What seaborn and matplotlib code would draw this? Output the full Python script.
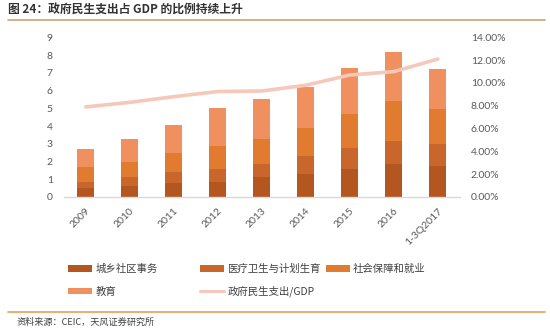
import numpy as np
import pandas as pd
import matplotlib
matplotlib.use("Agg")
import matplotlib.pyplot as plt
from matplotlib.patches import Patch
from matplotlib.lines import Line2D
import seaborn as sns

years = ["2009", "2010", "2011", "2012", "2013", "2014", "2015", "2016", "1-3Q2017"]
community = [0.50, 0.60, 0.79, 0.85, 1.11, 1.28, 1.58, 1.88, 1.77]
health = [0.35, 0.51, 0.62, 0.73, 0.75, 1.01, 1.19, 1.30, 1.22]
social = [0.82, 0.87, 1.05, 1.30, 1.43, 1.61, 1.90, 2.22, 1.98]
education = [1.03, 1.29, 1.62, 2.12, 2.21, 2.30, 2.63, 2.80, 2.23]
ratio = [7.9, 8.3, 8.8, 9.25, 9.3, 9.8, 10.7, 11.0, 12.1]
series_names = ["城乡社区事务", "医疗卫生与计划生育", "社会保障和就业", "教育"]
line_name = "政府民生支出/GDP"
title = "图 24：政府民生支出占 GDP 的比例持续上升"
source = "资料来源：CEIC，天风证券研究所"

colors = ["#B3561F", "#C8662B", "#E07B30", "#F0905E"]
line_color = "#F5C8BA"

sns.set_theme(style="white")
plt.rcParams['font.family'] = ['Lato', 'Noto Sans CJK SC', 'DejaVu Sans']

fig = plt.figure(figsize=(5.5, 3.31), dpi=100)
ax = fig.add_axes([0.116, 0.405, 0.72, 0.482])

cum = np.cumsum(np.array([community, health, social, education]), axis=0)
for i in range(3, -1, -1):
    d = pd.DataFrame({"year": years, "val": cum[i]})
    sns.barplot(data=d, x="year", y="val", color=colors[i], width=0.39,
                saturation=1, ax=ax, edgecolor="none", linewidth=0, zorder=2)

ax.set_xlim(-0.5, len(years) - 0.5)
ax.set_ylim(0, 9)
ax.set_yticks(range(0, 10))
ax.set_xlabel("")
ax.set_ylabel("")
for s in ["top", "right", "left"]:
    ax.spines[s].set_visible(False)
ax.spines["bottom"].set_color("#D9D9D9")
ax.spines["bottom"].set_linewidth(1)
ax.tick_params(axis="both", length=0, colors="#595959", labelsize=7.5)
ax.tick_params(axis="y", pad=8)
plt.setp(ax.get_xticklabels(), rotation=45, ha="right", rotation_mode="anchor")
ax.tick_params(axis="x", pad=7)

ax2 = ax.twinx()
ax2.plot(np.arange(len(years)), ratio, color=line_color, lw=2.6, solid_capstyle="round", zorder=5)
ax2.set_ylim(0, 14)
ax2.set_yticks(np.arange(0, 15, 2))
ax2.set_yticklabels([f"{v:.2f}%" for v in np.arange(0, 15, 2)])
for s in ["top", "right", "left", "bottom"]:
    ax2.spines[s].set_visible(False)
ax2.tick_params(axis="y", length=0, colors="#595959", labelsize=7.5, pad=8)
ax2.grid(False)
ax.grid(False)

# legend entries placed like the reference
handles = [Patch(facecolor=c, edgecolor="none") for c in colors] + [Line2D([], [], color=line_color, lw=2.2)]
labels = series_names + [line_name]
pos = [(0.124, 0.187), (0.364, 0.187), (0.592, 0.187), (0.124, 0.119), (0.364, 0.119)]
for h, l, (x, y) in zip(handles, labels, pos):
    leg = fig.legend(handles=[h], labels=[l], loc="center left", bbox_to_anchor=(x, y),
                     frameon=False, handlelength=2.3, handleheight=0.6,
                     handletextpad=0.3, borderpad=0, borderaxespad=0,
                     prop={"family": ["Noto Sans CJK SC", "DejaVu Sans"], "size": 7.5})
    for t in leg.get_texts():
        t.set_color("#404040")

fig.text(0.015, 0.968, title, fontsize=8.5, fontweight="bold", color="#333333",
         va="center", ha="left", family=["Noto Sans CJK SC", "DejaVu Sans"])
fig.add_artist(Line2D([0.015, 0.99], [0.94, 0.94], transform=fig.transFigure, color="#C9A46E", lw=1.2))
fig.add_artist(Line2D([0.015, 0.99], [0.058, 0.058], transform=fig.transFigure, color="#E9A050", lw=1.2))
fig.text(0.03, 0.027, source, fontsize=6.6, color="#404040", va="center", ha="left",
         family=["Noto Sans CJK SC", "DejaVu Sans"])

fig.savefig("out.png", dpi=100)
